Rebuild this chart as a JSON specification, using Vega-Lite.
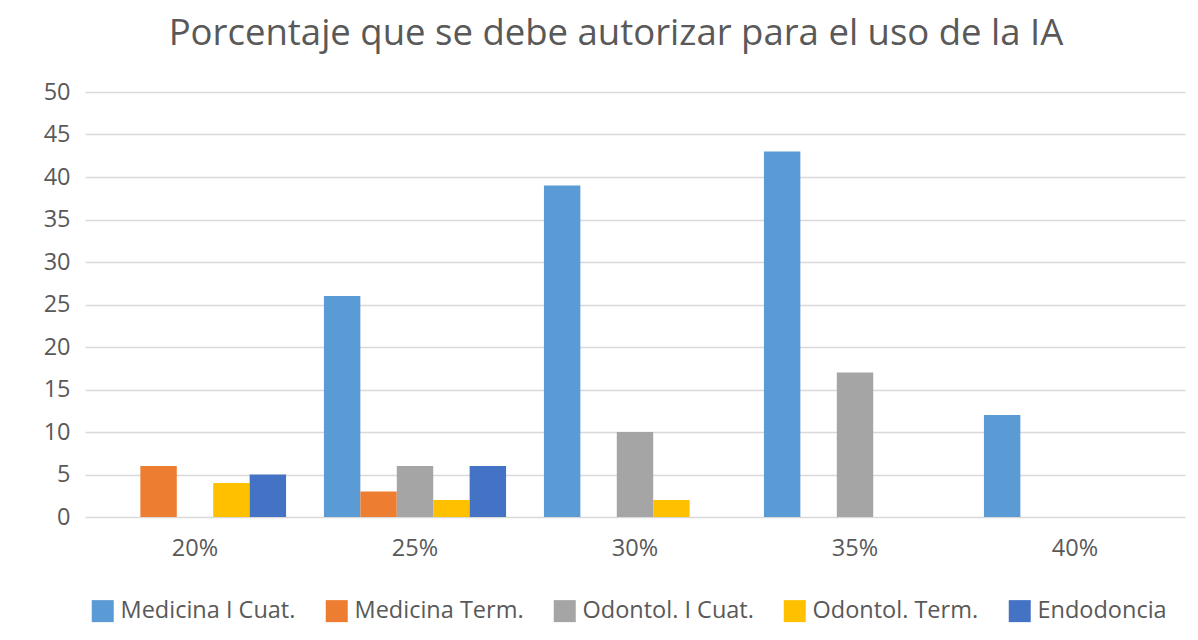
{
  "$schema": "https://vega.github.io/schema/vega-lite/v6.json",
  "width": 1100,
  "height": 425,
  "autosize": {"type": "none"},
  "padding": {"left": 85, "top": 92, "right": 13, "bottom": 123},
  "background": "#ffffff",
  "title": {
    "text": "Porcentaje que se debe autorizar para el uso de la IA",
    "font": "Open Sans",
    "fontSize": 36.5,
    "fontWeight": "normal",
    "color": "#595959",
    "anchor": "middle",
    "dx": -19,
    "offset": 28
  },
  "data": {
    "values": [
      {"cat": "20%", "serie": "Medicina I Cuat.", "valor": 0},
      {"cat": "20%", "serie": "Medicina Term.", "valor": 6},
      {"cat": "20%", "serie": "Odontol. I Cuat.", "valor": 0},
      {"cat": "20%", "serie": "Odontol. Term.", "valor": 4},
      {"cat": "20%", "serie": "Endodoncia", "valor": 5},
      {"cat": "25%", "serie": "Medicina I Cuat.", "valor": 26},
      {"cat": "25%", "serie": "Medicina Term.", "valor": 3},
      {"cat": "25%", "serie": "Odontol. I Cuat.", "valor": 6},
      {"cat": "25%", "serie": "Odontol. Term.", "valor": 2},
      {"cat": "25%", "serie": "Endodoncia", "valor": 6},
      {"cat": "30%", "serie": "Medicina I Cuat.", "valor": 39},
      {"cat": "30%", "serie": "Medicina Term.", "valor": 0},
      {"cat": "30%", "serie": "Odontol. I Cuat.", "valor": 10},
      {"cat": "30%", "serie": "Odontol. Term.", "valor": 2},
      {"cat": "30%", "serie": "Endodoncia", "valor": 0},
      {"cat": "35%", "serie": "Medicina I Cuat.", "valor": 43},
      {"cat": "35%", "serie": "Medicina Term.", "valor": 0},
      {"cat": "35%", "serie": "Odontol. I Cuat.", "valor": 17},
      {"cat": "35%", "serie": "Odontol. Term.", "valor": 0},
      {"cat": "35%", "serie": "Endodoncia", "valor": 0},
      {"cat": "40%", "serie": "Medicina I Cuat.", "valor": 12},
      {"cat": "40%", "serie": "Medicina Term.", "valor": 0},
      {"cat": "40%", "serie": "Odontol. I Cuat.", "valor": 0},
      {"cat": "40%", "serie": "Odontol. Term.", "valor": 0},
      {"cat": "40%", "serie": "Endodoncia", "valor": 0}
    ]
  },
  "mark": {"type": "bar"},
  "encoding": {
    "x": {
      "field": "cat",
      "type": "nominal",
      "sort": null,
      "scale": {"paddingInner": 0, "paddingOuter": 0},
      "axis": {
        "title": null,
        "labelAngle": 0,
        "labelFont": "Open Sans",
        "labelFontSize": 23.5,
        "labelColor": "#595959",
        "labelPadding": 19,
        "ticks": false,
        "domain": false,
        "grid": false
      }
    },
    "xOffset": {
      "field": "serie",
      "type": "nominal",
      "sort": ["Medicina I Cuat.", "Medicina Term.", "Odontol. I Cuat.", "Odontol. Term.", "Endodoncia"],
      "scale": {"paddingInner": 0, "paddingOuter": 0.52}
    },
    "y": {
      "field": "valor",
      "type": "quantitative",
      "scale": {"domain": [0, 50]},
      "axis": {
        "title": null,
        "values": [0, 5, 10, 15, 20, 25, 30, 35, 40, 45, 50],
        "labelFont": "Open Sans",
        "labelFontSize": 23.5,
        "labelColor": "#595959",
        "labelPadding": 15,
        "ticks": false,
        "domain": false,
        "gridColor": "#d9d9d9",
        "gridWidth": 1.5
      }
    },
    "color": {
      "field": "serie",
      "type": "nominal",
      "sort": ["Medicina I Cuat.", "Medicina Term.", "Odontol. I Cuat.", "Odontol. Term.", "Endodoncia"],
      "scale": {
        "domain": ["Medicina I Cuat.", "Medicina Term.", "Odontol. I Cuat.", "Odontol. Term.", "Endodoncia"],
        "range": ["#5B9BD5", "#ED7D31", "#A5A5A5", "#FFC000", "#4472C4"]
      },
      "legend": {
        "title": null,
        "orient": "none",
        "legendX": 6,
        "legendY": 507,
        "direction": "horizontal",
        "symbolType": "square",
        "symbolSize": 484,
        "symbolStrokeWidth": 0,
        "labelFont": "Open Sans",
        "labelFontSize": 23.5,
        "labelColor": "#595959",
        "labelOffset": 6,
        "columnPadding": 29,
        "labelLimit": 300
      }
    }
  },
  "config": {
    "view": {"stroke": null}
  }
}
